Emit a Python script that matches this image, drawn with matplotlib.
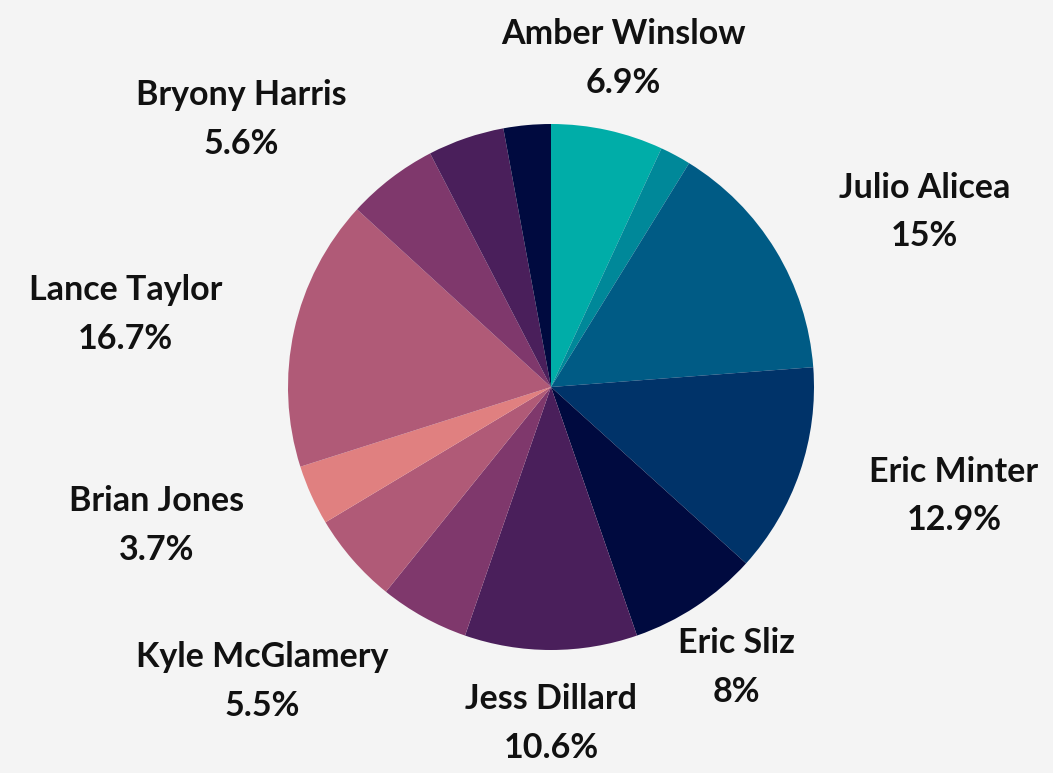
import numpy as np
import matplotlib
matplotlib.use("Agg")
import matplotlib.pyplot as plt

# slices clockwise from 12 o'clock; empty names get no label
names = ["Amber Winslow", "", "Julio Alicea", "Eric Minter", "Eric Sliz",
         "Jess Dillard", "Kyle McGlamery", "", "Brian Jones", "Lance Taylor",
         "Bryony Harris", "", ""]
shares = [6.9, 1.9, 15, 12.9, 8, 10.6, 5.5, 5.6, 3.7, 16.7, 5.6, 4.7, 2.9]
colors = ["#00ADA8", "#008899", "#005B85", "#003369", "#000A3F",
          "#4A1F5B", "#7F386C", "#B05A77", "#E08080", "#B05A77",
          "#7F386C", "#4A1F5B", "#000A3F"]

W, H = 1053, 773
cx, cy, r = 551, H - 387, 263

fig = plt.figure(figsize=(W / 100, H / 100), dpi=100)
fig.patch.set_facecolor("#F4F4F4")
ax = fig.add_axes([0, 0, 1, 1])

wedges, _ = ax.pie(shares, colors=colors, startangle=90, counterclock=False,
                   center=(cx, cy), radius=r, frame=True,
                   wedgeprops=dict(linewidth=0))
ax.set_xlim(0, W)
ax.set_ylim(0, H)
ax.set_aspect("equal")
ax.axis("off")

label_r = r * 1.28
for w, name, v in zip(wedges, names, shares):
    if not name:
        continue
    mid = np.deg2rad((w.theta1 + w.theta2) / 2)
    x = cx + label_r * np.cos(mid)
    y = cy + label_r * np.sin(mid)
    # clockwise angle from the top, used to pick the text alignment
    clock = (90 - np.rad2deg(mid)) % 360
    if 30 < clock < 130:
        ha = "left"
    elif 200 < clock < 340:
        ha = "right"
    else:
        ha = "center"
    ax.text(x, y, f"{name}\n{v:g}%", ha=ha, va="center", multialignment="center",
            fontsize=24.5, fontweight="bold", family=["Lato", "DejaVu Sans"],
            color="#111111", linespacing=1.65)

fig.savefig("out.png", dpi=100, facecolor=fig.get_facecolor())
